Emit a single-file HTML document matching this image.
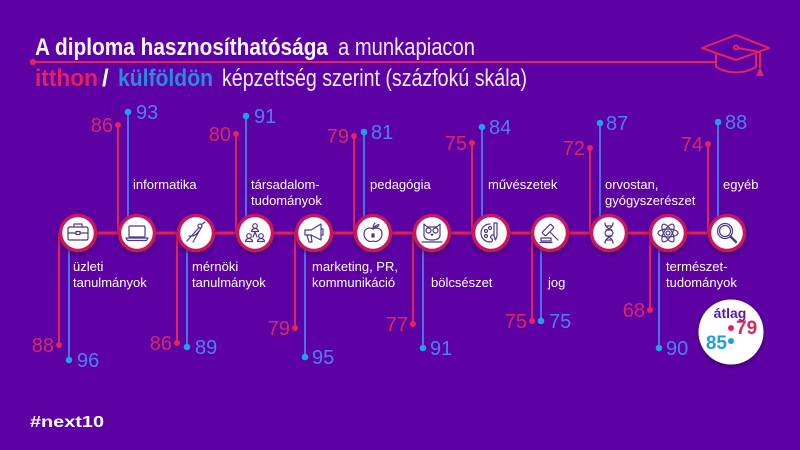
<!DOCTYPE html>
<html><head><meta charset="utf-8"><style>
html,body{margin:0;padding:0;background:#5d00a4;}
svg{display:block;}
text{font-family:"Liberation Sans",sans-serif;}
</style></head><body>
<svg width="800" height="450" viewBox="0 0 800 450" xmlns="http://www.w3.org/2000/svg">
<defs>
<filter id="sh" x="-50%" y="-50%" width="200%" height="200%"><feDropShadow dx="0" dy="2" stdDeviation="2.2" flood-color="#25003f" flood-opacity="0.6"/></filter>
</defs>
<rect width="800" height="450" fill="#5d00a4"/>

<!-- Title -->
<text x="35" y="55" font-size="24" font-weight="bold" fill="#fbf6ff" textLength="293" lengthAdjust="spacingAndGlyphs">A diploma hasznosíthatósága</text>
<text x="338" y="55" font-size="24" fill="#f3eafc" textLength="137" lengthAdjust="spacingAndGlyphs">a munkapiacon</text>
<line x1="33" y1="62" x2="716" y2="62" stroke="#e0245e" stroke-width="2"/>
<circle cx="33" cy="62" r="3.2" fill="#e0245e"/>
<text x="35" y="86" font-size="24" font-weight="bold" fill="#e5215a" textLength="63" lengthAdjust="spacingAndGlyphs">itthon</text>
<text x="102" y="86" font-size="24" font-weight="bold" fill="#ffffff">/</text>
<text x="118" y="86" font-size="24" font-weight="bold" fill="#2a8ae2" textLength="95" lengthAdjust="spacingAndGlyphs">külföldön</text>
<text x="222" y="86" font-size="24" fill="#f3eafc" textLength="305" lengthAdjust="spacingAndGlyphs">képzettség szerint (százfokú skála)</text>

<!-- mortarboard -->
<g fill="none" stroke="#e0245e" stroke-width="2" stroke-linejoin="round">
<path d="M702,48 L736,35 L769,48 L736,60 Z"/>
<path d="M716,54 V67 Q736,78 756,67 V54"/>
<circle cx="736" cy="47.5" r="2"/>
<path d="M738,48 L760,52 V68"/>
</g>
<path d="M760,67 L764,76 L756,76 Z" fill="#e0245e"/>

<!-- horizontal line -->
<line x1="59" y1="233" x2="746" y2="233" stroke="#e8204c" stroke-width="3"/>

<!-- vertical lines -->
<g stroke-width="2">
<!-- 0 uzleti -->
<line x1="59" y1="233" x2="59" y2="345" stroke="#e0245a"/><line x1="69" y1="233" x2="69" y2="360" stroke="#4a6fe6"/>
<!-- 1 informatika -->
<line x1="118" y1="233" x2="118" y2="125" stroke="#e0245a"/><line x1="128" y1="233" x2="128" y2="112" stroke="#4a6fe6"/>
<!-- 2 mernoki -->
<line x1="177" y1="233" x2="177" y2="343" stroke="#e0245a"/><line x1="187" y1="233" x2="187" y2="347" stroke="#4a6fe6"/>
<!-- 3 tarsadalom -->
<line x1="236" y1="233" x2="236" y2="134" stroke="#e0245a"/><line x1="246" y1="233" x2="246" y2="116" stroke="#4a6fe6"/>
<!-- 4 marketing -->
<line x1="295" y1="233" x2="295" y2="328" stroke="#e0245a"/><line x1="305" y1="233" x2="305" y2="357" stroke="#4a6fe6"/>
<!-- 5 pedagogia -->
<line x1="354" y1="233" x2="354" y2="136" stroke="#e0245a"/><line x1="364" y1="233" x2="364" y2="132" stroke="#4a6fe6"/>
<!-- 6 bolcseszet -->
<line x1="413" y1="233" x2="413" y2="324" stroke="#e0245a"/><line x1="423" y1="233" x2="423" y2="348" stroke="#4a6fe6"/>
<!-- 7 muveszetek -->
<line x1="472" y1="233" x2="472" y2="143" stroke="#e0245a"/><line x1="482" y1="233" x2="482" y2="127" stroke="#4a6fe6"/>
<!-- 8 jog -->
<line x1="532" y1="233" x2="532" y2="321" stroke="#e0245a"/><line x1="541" y1="233" x2="541" y2="321" stroke="#4a6fe6"/>
<!-- 9 orvostan -->
<line x1="590" y1="233" x2="590" y2="148" stroke="#e0245a"/><line x1="600" y1="233" x2="600" y2="123" stroke="#4a6fe6"/>
<!-- 10 termeszet -->
<line x1="650" y1="233" x2="650" y2="310" stroke="#e0245a"/><line x1="659" y1="233" x2="659" y2="348" stroke="#4a6fe6"/>
<!-- 11 egyeb -->
<line x1="708" y1="233" x2="708" y2="144" stroke="#e0245a"/><line x1="718" y1="233" x2="718" y2="122" stroke="#4a6fe6"/>
</g>

<!-- dots -->
<g fill="#e8245a">
<circle cx="59" cy="345" r="3"/><circle cx="118" cy="125" r="3"/><circle cx="177" cy="343" r="3"/><circle cx="236" cy="134" r="3"/>
<circle cx="295" cy="328" r="3"/><circle cx="354" cy="136" r="3"/><circle cx="413" cy="324" r="3"/><circle cx="472" cy="143" r="3"/>
<circle cx="532" cy="321" r="3"/><circle cx="590" cy="148" r="3"/><circle cx="650" cy="310" r="3"/><circle cx="708" cy="144" r="3"/>
</g>
<g fill="#1fa0ec">
<circle cx="69" cy="360" r="3.3"/><circle cx="128" cy="112" r="3.3"/><circle cx="187" cy="347" r="3.3"/><circle cx="246" cy="116" r="3.3"/>
<circle cx="305" cy="357" r="3.3"/><circle cx="364" cy="132" r="3.3"/><circle cx="423" cy="348" r="3.3"/><circle cx="482" cy="127" r="3.3"/>
<circle cx="541" cy="321" r="3.3"/><circle cx="600" cy="123" r="3.3"/><circle cx="659" cy="348" r="3.3"/><circle cx="718" cy="122" r="3.3"/>
</g>

<!-- numbers -->
<g font-size="20" fill="#d42a66" text-anchor="end">
<text x="54" y="352">88</text><text x="113" y="132">86</text><text x="172" y="350">86</text><text x="231" y="141">80</text>
<text x="290" y="335">79</text><text x="349" y="143">79</text><text x="408" y="331">77</text><text x="467" y="150">75</text>
<text x="527" y="328">75</text><text x="585" y="155">72</text><text x="645" y="317">68</text><text x="703" y="151">74</text>
</g>
<g font-size="20" fill="#4f7ff2">
<text x="77" y="367">96</text><text x="136" y="119">93</text><text x="195" y="354">89</text><text x="254" y="123">91</text>
<text x="312" y="364">95</text><text x="371" y="139">81</text><text x="430" y="355">91</text><text x="489" y="134">84</text>
<text x="549" y="328">75</text><text x="606" y="130">87</text><text x="666" y="355">90</text><text x="725" y="129">88</text>
</g>

<!-- labels -->
<g font-size="13" fill="#ffffff">
<text x="73" y="271">üzleti</text><text x="73" y="287">tanulmányok</text>
<text x="133" y="189">informatika</text>
<text x="192" y="271">mérnöki</text><text x="192" y="287">tanulmányok</text>
<text x="251" y="189">társadalom-</text><text x="251" y="205">tudományok</text>
<text x="312" y="271">marketing, PR,</text><text x="312" y="287">kommunikáció</text>
<text x="370" y="189">pedagógia</text>
<text x="431" y="287">bölcsészet</text>
<text x="488" y="189">művészetek</text>
<text x="548" y="287">jog</text>
<text x="605" y="189">orvostan,</text><text x="605" y="205">gyógyszerészet</text>
<text x="666" y="271">természet-</text><text x="666" y="287">tudományok</text>
<text x="723" y="189">egyéb</text>
</g>

<!-- circles -->
<g filter="url(#sh)" fill="#ffffff" stroke="#c8185e" stroke-width="3.5">
<circle cx="78" cy="233" r="17.5"/><circle cx="137" cy="233" r="17.5"/><circle cx="196" cy="233" r="17.5"/><circle cx="255" cy="233" r="17.5"/>
<circle cx="314" cy="233" r="17.5"/><circle cx="373" cy="233" r="17.5"/><circle cx="432" cy="233" r="17.5"/><circle cx="491" cy="233" r="17.5"/>
<circle cx="550" cy="233" r="17.5"/><circle cx="609" cy="233" r="17.5"/><circle cx="668" cy="233" r="17.5"/><circle cx="727" cy="233" r="17.5"/>
</g>

<!-- icons -->
<g fill="none" stroke="#4b3b86" stroke-width="1.2" stroke-linejoin="round" stroke-linecap="round">
<g transform="translate(78,233)">
<rect x="-10" y="-6" width="20" height="13" rx="1.5"/><path d="M-4,-6V-9H4V-6 M-10,0H-2 M2,0H10"/><rect x="-2" y="-1.5" width="4" height="3"/>
</g>
<g transform="translate(137,233)">
<rect x="-8" y="-7" width="16" height="11" rx="1"/><path d="M-11,5H11L9.5,7.5H-9.5Z"/>
</g>
<g transform="translate(196,233)">
<circle cx="4" cy="-7" r="2"/><path d="M3,-5.5L-9,8 M5,-5L-3,9 M5.5,-8.5L9,-11 M-7,3 Q-1,4 3,-2"/>
</g>
<g transform="translate(255,233)">
<circle cx="0" cy="-7" r="2.3"/><path d="M-3.5,-1.5a3.5,3 0 0 1 7,0z"/>
<circle cx="-6" cy="3" r="2.3"/><path d="M-9.5,8.5a3.5,3 0 0 1 7,0z"/>
<circle cx="6" cy="3" r="2.3"/><path d="M2.5,8.5a3.5,3 0 0 1 7,0z"/>
<path d="M0,-1L-2,4 M0,-1L2,4"/>
</g>
<g transform="translate(314,233)">
<path d="M-9,-3H-3L7,-9V7L-3,2H-9Z"/><path d="M-7,2L-5,9H-2L-3,2"/><path d="M7,-4H9V2H7"/>
</g>
<g transform="translate(373,233)">
<path d="M0,-4C-3,-6 -9,-5 -9,1C-9,6 -4,10 0,8C4,10 9,6 9,1C9,-5 3,-6 0,-4Z"/><path d="M0,-4Q0,-8 2,-10 M1,-6Q5,-9 6,-8Q4,-5 1,-6"/>
<rect x="-1" y="1" width="2" height="3" fill="#4b3b86"/>
</g>
<g transform="translate(432,233)">
<path d="M-8,-9L-5,-6H5L8,-9V2Q8,7 0,7Q-8,7 -8,2Z"/><circle cx="-3.5" cy="-2.5" r="2.5"/><circle cx="3.5" cy="-2.5" r="2.5"/><path d="M-1,1L0,2.5L1,1 M-10,9H10"/>
</g>
<g transform="translate(491,233)">
<path d="M-1,-9C-7,-9 -10,-4 -10,0C-10,6 -5,9 -1,9C2,9 2,6 0,5C-1,4 0,2 2,2H3"/>
<circle cx="-5" cy="-2" r="1.5"/><circle cx="-5" cy="3" r="1.5"/><circle cx="-1" cy="-5" r="1.5"/>
<path d="M6,-10v13l-1.5,4 -1.5,-4v-13z"/>
</g>
<g transform="translate(550,233)">
<g transform="translate(-2,-3) rotate(-45)"><rect x="-6" y="-2.5" width="12" height="5" rx="1"/></g>
<path d="M0,-1L8,7"/><rect x="-9" y="5" width="10" height="3"/><path d="M-10,9.5H2"/>
</g>
<g transform="translate(609,233)">
<path d="M-4,-10C-4,-4 4,-4 4,0C4,4 -4,4 -4,10 M4,-10C4,-4 -4,-4 -4,0C-4,4 4,4 4,10 M-3,-7H3 M-3,-3H3 M-3,3H3 M-3,7H3"/>
</g>
<g transform="translate(668,233)">
<ellipse rx="10" ry="4"/><ellipse rx="10" ry="4" transform="rotate(60)"/><ellipse rx="10" ry="4" transform="rotate(-60)"/><circle r="2"/>
</g>
<g transform="translate(727,233)">
<circle cx="-2" cy="-2" r="7.5"/><circle cx="-2" cy="-2" r="5.5"/><path d="M3.5,3.5L9,9" stroke-width="2.5"/>
</g>
</g>

<!-- average -->
<circle cx="731" cy="332" r="32.5" fill="#ffffff" filter="url(#sh)"/>
<text x="730" y="318" font-size="14" font-weight="bold" fill="#5a1aa0" text-anchor="middle">átlag</text>
<circle cx="731" cy="328" r="3" fill="#e0245a"/>
<text x="736" y="334" font-size="19" font-weight="bold" fill="#e0245a">79</text>
<circle cx="731" cy="341" r="3" fill="#1fa0d8"/>
<text x="727" y="349" font-size="19" font-weight="bold" fill="#1fa0d8" text-anchor="end">85</text>

<!-- logo -->
<text x="30" y="427" font-size="16" font-weight="bold" fill="#ffffff" textLength="74" lengthAdjust="spacingAndGlyphs">#next10</text>
</svg>
</body></html>
